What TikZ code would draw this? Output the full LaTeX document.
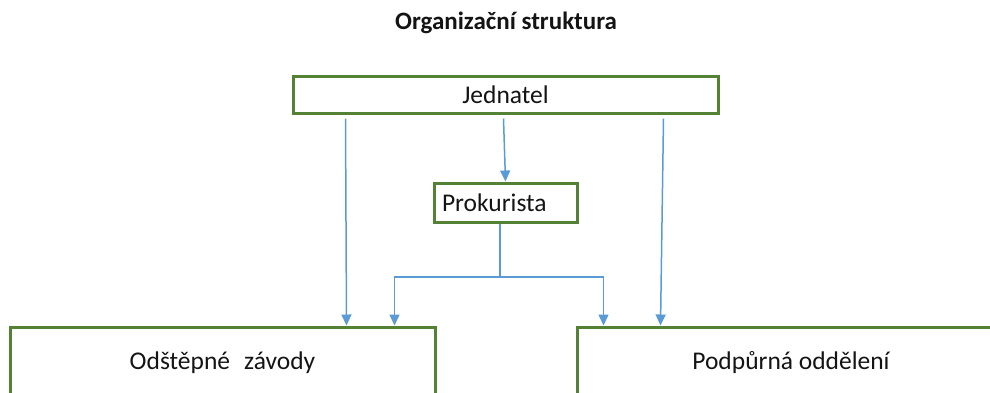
\documentclass[tikz,border=0pt]{standalone}
\usepackage{fontspec}
\setmainfont{Carlito}
\usetikzlibrary{arrows.meta}
\definecolor{boxgreen}{RGB}{84,130,53}
\definecolor{arrblue}{RGB}{91,155,213}
\definecolor{txt}{RGB}{20,20,20}
\tikzset{
  orgbox/.style={draw=boxgreen, line width=3pt, fill=white, text=txt, font=\fontsize{25.5}{30}\selectfont, inner sep=0pt},
  arr/.style={draw=arrblue, line width=1.5pt, -{Triangle[length=11pt,width=10pt]}},
}
\begin{document}
\begin{tikzpicture}[x=1pt,y=-1pt]
\useasboundingbox (0,0) rectangle (990,392);
\clip (0,0) rectangle (990,392);
\node[font=\bfseries\fontsize{25}{30}\selectfont, text=txt] (title) at (506,23) {Organizační struktura};
\node[orgbox, minimum width=425pt, minimum height=37pt] (jed) at (505.5,94.5) {Jednatel};
\node[orgbox, minimum height=39pt, text width=127pt, inner xsep=8pt, align=left] (pro) at (505.5,202.5) {Prokurista};
\node[orgbox, minimum width=425pt, minimum height=72pt] (lb) at (222.5,363) {Odštěpné\hspace{14pt}závody};
\node[orgbox, minimum width=428pt, minimum height=72pt] (rb) at (791,363) {Podpůrná oddělení};
\coordinate (split) at (500,277);
\draw[arr] ([xshift=54pt,yshift=-4pt]jed.south west) -- ([xshift=338pt]lb.north west);
\draw[arr] ([xshift=-2pt,yshift=-4pt]jed.south) -- (pro.north);
\draw[arr] ([xshift=-56pt,yshift=-4pt]jed.south east) -- ([xshift=85pt]rb.north west);
\draw[arr] (pro.south -| split) -- (split) -| ([xshift=386pt]lb.north west);
\draw[arr] (split) -| ([xshift=28pt]rb.north west);
\end{tikzpicture}
\end{document}
